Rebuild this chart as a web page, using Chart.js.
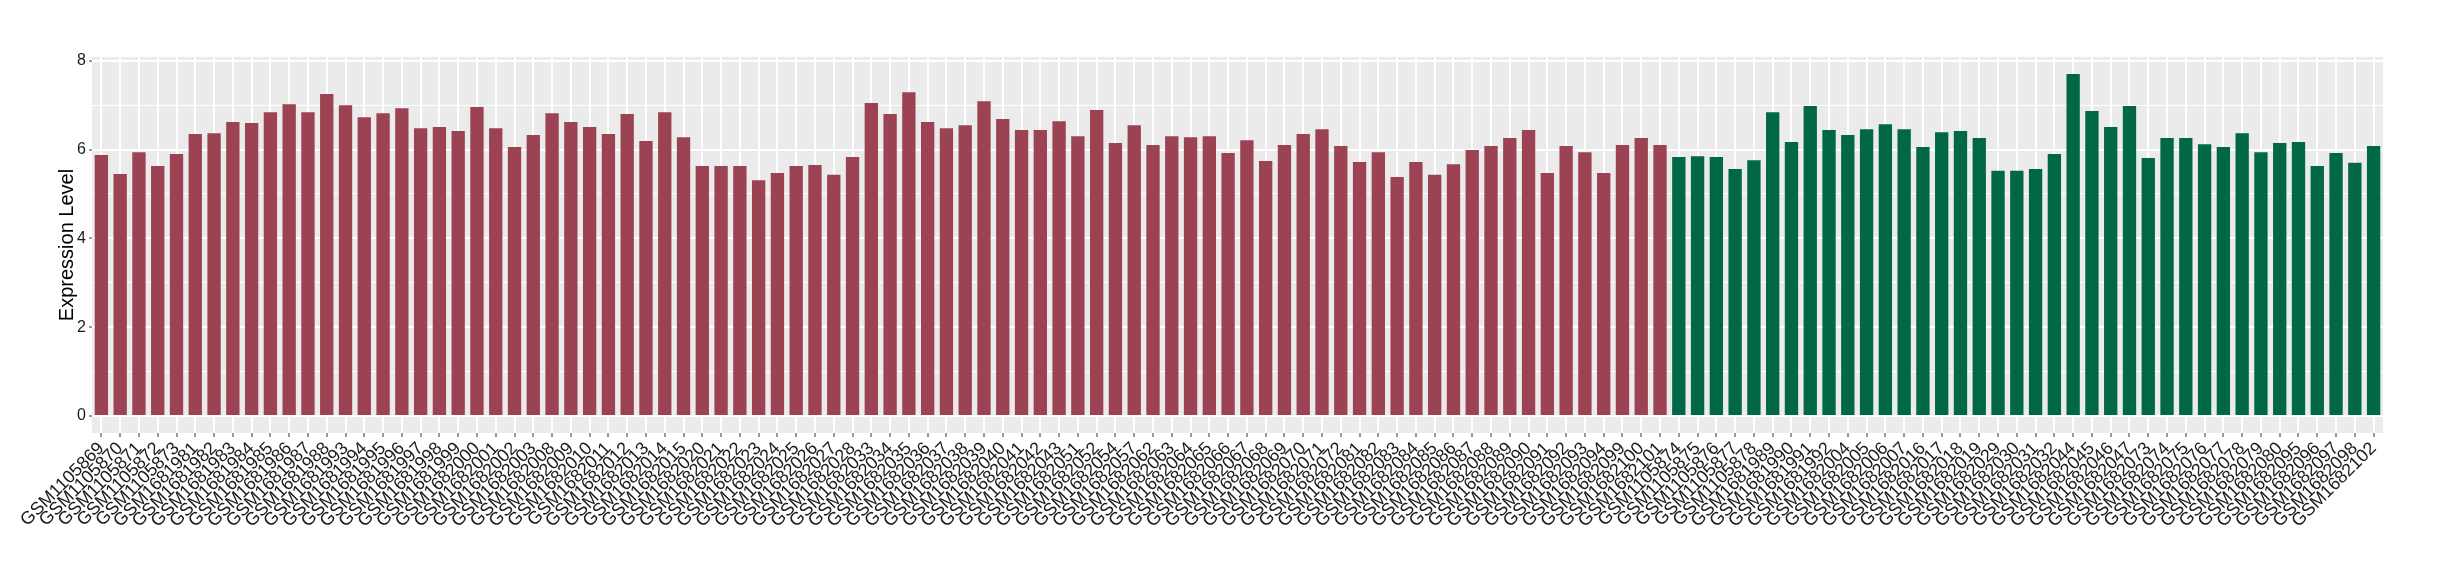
<!DOCTYPE html>
<html>
<head>
<meta charset="utf-8">
<script src="https://cdn.jsdelivr.net/npm/chart.js@4.4.1/dist/chart.umd.min.js"></script>
<style>
  html, body { margin: 0; padding: 0; background: #ffffff; }
  #wrap { width: 2440px; height: 580px; }
</style>
</head>
<body>
<div id="wrap"><canvas id="myChart" width="2440" height="580"></canvas></div>
<script>
// samples of the first group (dark red)
let red_labels = [
    "GSM1105869", "GSM1105870", "GSM1105871", "GSM1105872", "GSM1105873",
    "GSM1681981", "GSM1681982", "GSM1681983", "GSM1681984", "GSM1681985",
    "GSM1681986", "GSM1681987", "GSM1681988", "GSM1681993", "GSM1681994",
    "GSM1681995", "GSM1681996", "GSM1681997", "GSM1681998", "GSM1681999",
    "GSM1682000", "GSM1682001", "GSM1682002", "GSM1682003", "GSM1682008",
    "GSM1682009", "GSM1682010", "GSM1682011", "GSM1682012", "GSM1682013",
    "GSM1682014", "GSM1682015", "GSM1682020", "GSM1682021", "GSM1682022",
    "GSM1682023", "GSM1682024", "GSM1682025", "GSM1682026", "GSM1682027",
    "GSM1682028", "GSM1682033", "GSM1682034", "GSM1682035", "GSM1682036",
    "GSM1682037", "GSM1682038", "GSM1682039", "GSM1682040", "GSM1682041",
    "GSM1682042", "GSM1682043", "GSM1682051", "GSM1682052", "GSM1682054",
    "GSM1682057", "GSM1682062", "GSM1682063", "GSM1682064", "GSM1682065",
    "GSM1682066", "GSM1682067", "GSM1682068", "GSM1682069", "GSM1682070",
    "GSM1682071", "GSM1682072", "GSM1682081", "GSM1682082", "GSM1682083",
    "GSM1682084", "GSM1682085", "GSM1682086", "GSM1682087", "GSM1682088",
    "GSM1682089", "GSM1682090", "GSM1682091", "GSM1682092", "GSM1682093",
    "GSM1682094", "GSM1682099", "GSM1682100", "GSM1682101"
];
let red_values = [
    5.88, 5.45, 5.94, 5.63, 5.90, 6.35, 6.37, 6.62, 6.60, 6.84,
    7.02, 6.84, 7.25, 7.00, 6.73, 6.82, 6.93, 6.48, 6.51, 6.42,
    6.96, 6.48, 6.06, 6.33, 6.82, 6.62, 6.51, 6.35, 6.80, 6.19,
    6.84, 6.28, 5.63, 5.63, 5.63, 5.31, 5.47, 5.63, 5.65, 5.43,
    5.83, 7.05, 6.80, 7.29, 6.62, 6.48, 6.55, 7.09, 6.69, 6.44,
    6.44, 6.64, 6.30, 6.89, 6.15, 6.55, 6.10, 6.30, 6.28, 6.30,
    5.92, 6.21, 5.74, 6.10, 6.35, 6.46, 6.08, 5.72, 5.94, 5.38,
    5.72, 5.43, 5.67, 5.99, 6.08, 6.26, 6.44, 5.47, 6.08, 5.94,
    5.47, 6.10, 6.26, 6.10
];

// samples of the second group (dark green)
let green_labels = [
    "GSM1105874", "GSM1105875", "GSM1105876", "GSM1105877", "GSM1105878",
    "GSM1681989", "GSM1681990", "GSM1681991", "GSM1681992", "GSM1682004",
    "GSM1682005", "GSM1682006", "GSM1682007", "GSM1682016", "GSM1682017",
    "GSM1682018", "GSM1682019", "GSM1682029", "GSM1682030", "GSM1682031",
    "GSM1682032", "GSM1682044", "GSM1682045", "GSM1682046", "GSM1682047",
    "GSM1682073", "GSM1682074", "GSM1682075", "GSM1682076", "GSM1682077",
    "GSM1682078", "GSM1682079", "GSM1682080", "GSM1682095", "GSM1682096",
    "GSM1682097", "GSM1682098", "GSM1682102"
];
let green_values = [
    5.83, 5.85, 5.83, 5.56, 5.76, 6.84, 6.17, 6.98, 6.44, 6.33,
    6.46, 6.57, 6.46, 6.06, 6.39, 6.42, 6.26, 5.52, 5.52, 5.56,
    5.90, 7.70, 6.87, 6.51, 6.98, 5.81, 6.26, 6.26, 6.12, 6.06,
    6.37, 5.94, 6.15, 6.17, 5.63, 5.92, 5.70, 6.08
];

let y_ticks = [0, 1, 2, 3, 4, 5, 6, 7, 8];

let red_color = "#9B4352";
let green_color = "#006845";

let labels = red_labels.concat(green_labels);
let values = red_values.concat(green_values);
let colors = red_labels.map(() => red_color).concat(green_labels.map(() => green_color));

// grey ggplot-like panel behind the plot area
let panelBackground = {
    id: "panelBackground",
    beforeDraw: (chart) => {
        let {ctx, chartArea} = chart;
        ctx.save();
        ctx.fillStyle = "#EBEBEB";
        ctx.fillRect(chartArea.left, chartArea.top, chartArea.right - chartArea.left, chartArea.bottom - chartArea.top);
        ctx.restore();
    }
};

let myChart = new Chart("myChart", {
    type: "bar",
    data: {
        labels: labels,
        datasets: [{
            label: "Expression Level",
            data: values,
            backgroundColor: colors,
            borderWidth: 0,
            categoryPercentage: 1.0,
            barPercentage: 0.71
        }]
    },
    options: {
        responsive: false,
        animation: false,
        devicePixelRatio: 1,
        layout: {
            padding: {left: 0, right: 57, top: 57, bottom: 0}
        },
        plugins: {
            legend: {display: false},
            tooltip: {enabled: false}
        },
        scales: {
            x: {
                offset: true,
                grid: {
                    offset: false,
                    color: "#FFFFFF",
                    lineWidth: 2,
                    tickColor: "#333333",
                    tickWidth: 1,
                    tickLength: 4
                },
                border: {display: false},
                ticks: {
                    autoSkip: false,
                    minRotation: 45,
                    maxRotation: 45,
                    padding: 1,
                    color: "#1A1A1A",
                    font: {family: "Liberation Sans", size: 18}
                },
                afterFit: (scale) => { scale.height = 147; }
            },
            y: {
                min: -0.385,
                max: 8.085,
                afterBuildTicks: (scale) => {
                    scale.ticks = y_ticks.map(v => ({value: v}));
                },
                grid: {
                    color: "#FFFFFF",
                    lineWidth: (c) => (c.tick && c.tick.value % 2 === 0) ? 2 : 1,
                    tickColor: (c) => (c.tick && c.tick.value % 2 === 0) ? "#333333" : "rgba(0,0,0,0)",
                    tickWidth: 1,
                    tickLength: 3
                },
                border: {display: false},
                ticks: {
                    padding: 3,
                    color: "#1A1A1A",
                    font: {family: "Liberation Sans", size: 16},
                    callback: (value) => value % 2 === 0 ? String(value) : ""
                },
                title: {
                    display: true,
                    text: "Expression Level",
                    color: "#000000",
                    font: {family: "Liberation Sans", size: 20},
                    padding: {top: 55, bottom: 0}
                },
                afterFit: (scale) => { scale.width = 92; }
            }
        }
    },
    plugins: [panelBackground]
});
</script>
</body>
</html>
